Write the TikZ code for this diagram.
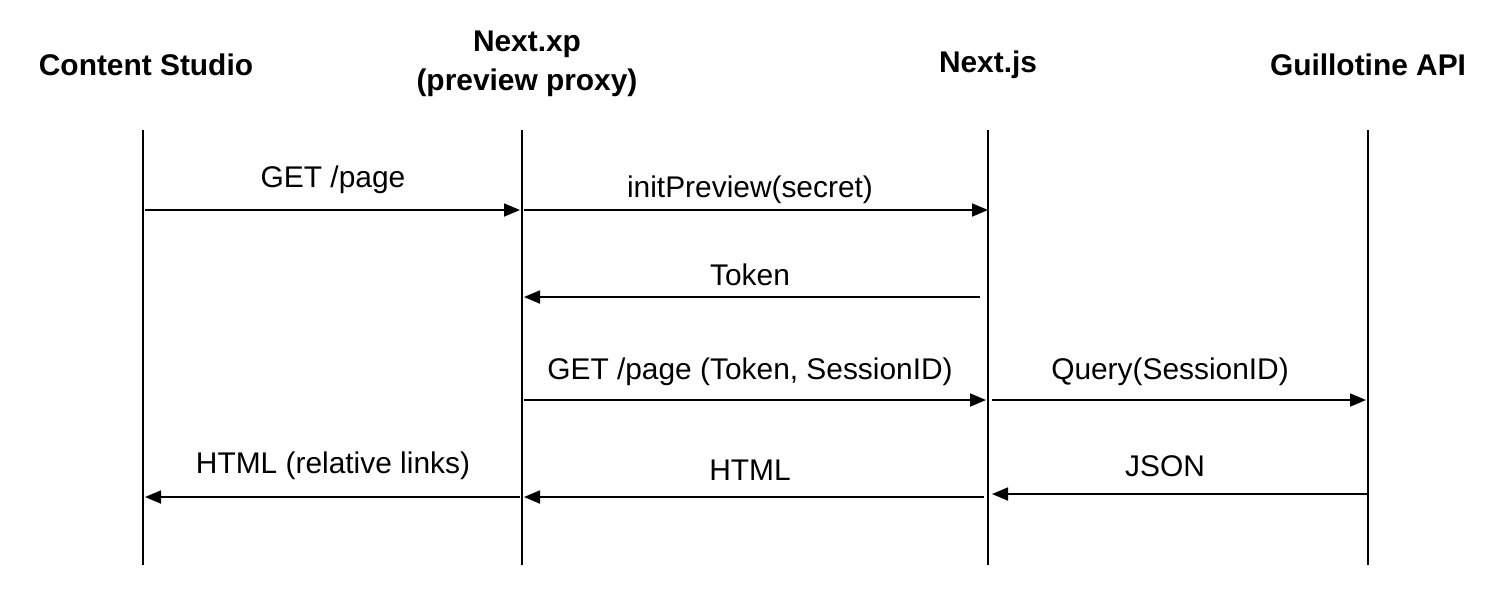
\documentclass[tikz,border=0pt]{standalone}
\usepackage{fontspec}
\setmainfont{Liberation Sans}
\usetikzlibrary{positioning,arrows.meta}

\begin{document}
\begin{tikzpicture}[x=0.01cm,y=-0.01cm,
  head/.style={font=\fontsize{8.5}{11}\selectfont\bfseries,align=center},
  lbl/.style={font=\fontsize{8.5}{11}\selectfont,inner sep=0pt},
  life/.style={line width=0.6pt},
  msg/.style={line width=0.5pt,-{Triangle[length=1.6mm,width=1.3mm]}}]

\useasboundingbox (0,0) rectangle (1510,602);

\node[head] (cs)  at (146,65)  {Content Studio};
\node[head] (nxp) at (527,64)  {Next.xp\\(preview proxy)};
\node[head] (njs) at (988,65)  {Next.js};
\node[head] (gui) at (1368,65) {Guillotine API};

\coordinate (cs0)  at (143,130);  \coordinate (cs1)  at (143,565);
\coordinate (nxp0) at (522,130);  \coordinate (nxp1) at (522,565);
\coordinate (njs0) at (988,130);  \coordinate (njs1) at (988,565);
\coordinate (gui0) at (1368,130); \coordinate (gui1) at (1368,565);

\draw[life] (cs0)  -- (cs1);
\draw[life] (nxp0) -- (nxp1);
\draw[life] (njs0) -- (njs1);
\draw[life] (gui0) -- (gui1);

\coordinate (a1) at (145,210);  \coordinate (b1) at (520,210);
\coordinate (a2) at (524,210);  \coordinate (b2) at (988,210);
\coordinate (a3) at (980,297);  \coordinate (b3) at (524,297);
\coordinate (a4) at (524,400);  \coordinate (b4) at (986,400);
\coordinate (a5) at (992,400);  \coordinate (b5) at (1366,400);
\coordinate (a6) at (520,497);  \coordinate (b6) at (145,497);
\coordinate (a7) at (984,497);  \coordinate (b7) at (524,497);
\coordinate (a8) at (1368,494); \coordinate (b8) at (992,494);

\draw[msg] (a1) -- (b1);
\draw[msg] (a2) -- (b2);
\draw[msg] (a3) -- (b3);
\draw[msg] (a4) -- (b4);
\draw[msg] (a5) -- (b5);
\draw[msg] (a6) -- (b6);
\draw[msg] (a7) -- (b7);
\draw[msg] (a8) -- (b8);

\node[lbl] (l1) at (333,180)  {GET /page};
\node[lbl] (l2) at (750,190)  {initPreview(secret)};
\node[lbl] (l3) at (750,275)  {Token};
\node[lbl] (l4) at (750,372)  {GET /page (Token, SessionID)};
\node[lbl] (l5) at (1170,372) {Query(SessionID)};
\node[lbl] (l6) at (333,466)  {HTML (relative links)};
\node[lbl] (l7) at (750,470)  {HTML};
\node[lbl] (l8) at (1165,466) {JSON};

\end{tikzpicture}
\end{document}
